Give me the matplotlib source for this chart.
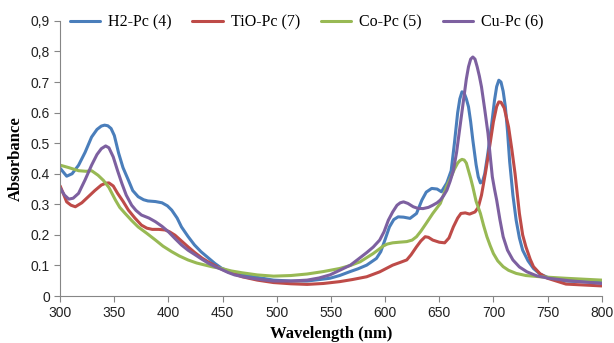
import matplotlib
matplotlib.use("Agg")
import matplotlib.pyplot as plt

# values
h2_wl = [300, 306, 311, 317, 323, 329, 334, 338, 341, 344, 347, 350, 354, 358, 363,
         367, 372, 377, 381, 388, 394, 399, 403, 408, 412, 418, 424, 430, 437, 443,
         449, 455, 461, 470, 480, 497, 513, 528, 549, 558, 567, 575, 583, 592, 596,
         600, 604, 608, 612, 617, 623, 629, 634, 638, 643, 648, 652, 657, 661, 664,
         667, 669, 671, 673, 675, 677, 679, 681, 684, 686, 688, 690, 692, 695, 698,
         701, 703, 705, 707, 709, 711, 713, 715, 718, 721, 724, 727, 732, 737, 743,
         750, 767, 800]
h2_abs = [0.418, 0.392, 0.400, 0.428, 0.47, 0.52, 0.545, 0.556, 0.559, 0.557, 0.548,
          0.525, 0.467, 0.42, 0.379, 0.345, 0.325, 0.315, 0.311, 0.309, 0.305, 0.295,
          0.281, 0.255, 0.226, 0.195, 0.167, 0.145, 0.124, 0.106, 0.091, 0.082, 0.075,
          0.068, 0.062, 0.052, 0.049, 0.049, 0.058, 0.067, 0.079, 0.089, 0.101, 0.123,
          0.145, 0.185, 0.226, 0.25, 0.259, 0.258, 0.254, 0.27, 0.314, 0.34, 0.352,
          0.35, 0.341, 0.37, 0.41, 0.5, 0.6, 0.645, 0.668, 0.664, 0.645, 0.619, 0.57,
          0.51, 0.43, 0.39, 0.37, 0.375, 0.40, 0.47, 0.55, 0.64, 0.685, 0.706, 0.70,
          0.67, 0.62, 0.54, 0.44, 0.33, 0.248, 0.19, 0.15, 0.115, 0.09, 0.072, 0.061,
          0.049, 0.044]

tio_wl = [300, 306, 310, 314, 320, 326, 332, 338, 342, 345, 349, 353, 358, 363, 369,
          375, 380, 385, 391, 397, 401, 406, 412, 418, 424, 431, 437, 443, 449, 455,
          468, 482, 497, 513, 528, 543, 558, 570, 583, 595, 601, 607, 614, 620, 624,
          629, 633, 637, 640, 644, 650, 655, 659, 663, 667, 670, 674, 678, 683, 686,
          689, 693, 697, 700, 703, 705, 707, 710, 714, 717, 720, 724, 727, 730, 734,
          737, 743, 750, 767, 800]
tio_abs = [0.36, 0.308, 0.297, 0.292, 0.305, 0.325, 0.345, 0.363, 0.369, 0.37, 0.36,
           0.336, 0.31, 0.281, 0.255, 0.232, 0.222, 0.218, 0.218, 0.216, 0.21, 0.199,
           0.18, 0.161, 0.143, 0.124, 0.111, 0.099, 0.088, 0.079, 0.063, 0.052, 0.044,
           0.04, 0.038, 0.041, 0.047, 0.054, 0.063, 0.079, 0.09, 0.101, 0.11, 0.118,
           0.135, 0.161, 0.18, 0.194, 0.192, 0.183, 0.176, 0.174, 0.19, 0.226, 0.255,
           0.27, 0.272, 0.268, 0.275, 0.29, 0.33, 0.41, 0.5, 0.57, 0.62, 0.635, 0.634,
           0.615, 0.553, 0.48, 0.40, 0.27, 0.2, 0.161, 0.12, 0.096, 0.073, 0.058, 0.039,
           0.033]

co_wl = [300, 308, 317, 324, 329, 335, 340, 345, 351, 355, 360, 366, 372, 380, 388,
         395, 403, 410, 418, 426, 434, 441, 449, 458, 468, 482, 497, 513, 528, 543,
         558, 568, 577, 589, 594, 598, 602, 607, 613, 620, 625, 629, 633, 638, 644,
         651, 657, 661, 664, 667, 669, 671, 673, 675, 677, 679, 681, 684, 688, 691,
         694, 697, 700, 704, 709, 714, 721, 730, 743, 767, 800]
co_abs = [0.428, 0.42, 0.41, 0.408, 0.41, 0.395, 0.378, 0.355, 0.314, 0.29, 0.27,
          0.247, 0.226, 0.205, 0.183, 0.163, 0.145, 0.131, 0.118, 0.108, 0.101, 0.095,
          0.09, 0.082, 0.076, 0.069, 0.065, 0.067, 0.072, 0.08, 0.09, 0.1, 0.112,
          0.139, 0.152, 0.163, 0.17, 0.174, 0.176, 0.178, 0.183, 0.194, 0.212, 0.238,
          0.27, 0.303, 0.36, 0.39, 0.415, 0.435, 0.443, 0.447, 0.445, 0.435, 0.41,
          0.385, 0.357, 0.31, 0.27, 0.23, 0.194, 0.165, 0.139, 0.115, 0.096, 0.084,
          0.074, 0.067, 0.063, 0.058, 0.052]

cu_wl = [300, 304, 308, 312, 317, 323, 329, 334, 338, 342, 345, 349, 353, 357, 361,
         366, 370, 375, 382, 388, 394, 400, 406, 412, 418, 425, 431, 437, 443, 449,
         455, 461, 469, 477, 487, 497, 513, 528, 539, 549, 558, 568, 575, 583, 589,
         595, 599, 603, 607, 611, 614, 617, 621, 626, 630, 635, 640, 644, 648, 651,
         654, 657, 660, 663, 666, 669, 672, 675, 677, 679, 681, 683, 685, 687, 689,
         692, 695, 697, 699, 701, 703, 706, 709, 713, 718, 724, 731, 740, 751, 770,
         800]
cu_abs = [0.353, 0.33, 0.317, 0.32, 0.336, 0.38, 0.428, 0.463, 0.482, 0.491, 0.485,
          0.455, 0.41, 0.368, 0.33, 0.297, 0.28, 0.265, 0.255, 0.243, 0.228, 0.21,
          0.188, 0.167, 0.15, 0.134, 0.12, 0.107, 0.096, 0.087, 0.077, 0.069, 0.063,
          0.058, 0.053, 0.049, 0.049, 0.052, 0.059, 0.069, 0.084, 0.101, 0.12, 0.142,
          0.16, 0.183, 0.21, 0.248, 0.275, 0.297, 0.305, 0.308, 0.303, 0.292, 0.287,
          0.286, 0.29, 0.297, 0.305, 0.314, 0.328, 0.346, 0.375, 0.41, 0.47, 0.55,
          0.63, 0.71, 0.75, 0.775, 0.782, 0.775, 0.75, 0.72, 0.684, 0.61, 0.532, 0.46,
          0.39, 0.35, 0.314, 0.25, 0.194, 0.15, 0.118, 0.095, 0.079, 0.066, 0.058,
          0.05, 0.041]

labels = ["H2-Pc (4)", "TiO-Pc (7)", "Co-Pc (5)", "Cu-Pc (6)"]
colors = ["#4A7EBB", "#BE4B48", "#98B954", "#7D60A0"]

y_ticks = [0, 0.1, 0.2, 0.3, 0.4, 0.5, 0.6, 0.7, 0.8, 0.9]
y_tick_labels = ["0", "0.1", "0.2", "0.3", "0.4", "0.5", "0.6", "0.7", "0,8", "0,9"]
x_ticks = [300, 350, 400, 450, 500, 550, 600, 650, 700, 750, 800]

fig = plt.figure(figsize=(6.14, 3.43), dpi=100)
ax = fig.add_axes([0.098, 0.137, 0.882, 0.802])

series = [(h2_wl, h2_abs), (tio_wl, tio_abs), (co_wl, co_abs), (cu_wl, cu_abs)]
for (wl, ab), lab, col in zip(series, labels, colors):
    ax.plot(wl, ab, color=col, lw=2.2, label=lab,
            solid_capstyle="round", solid_joinstyle="round")

ax.set_xlim(300, 800)
ax.set_ylim(0, 0.9)
ax.set_xticks(x_ticks)
ax.set_yticks(y_ticks)
ax.set_yticklabels(y_tick_labels)

for s in ["top", "right"]:
    ax.spines[s].set_visible(False)
for s in ["left", "bottom"]:
    ax.spines[s].set_color("#868686")
ax.tick_params(direction="out", length=4, color="#868686", labelsize=10,
               labelcolor="#222222")
for t in ax.get_xticklabels() + ax.get_yticklabels():
    t.set_family("Liberation Sans")

ax.set_xlabel("Wavelength (nm)", family="Liberation Serif", fontweight="bold",
              fontsize=12, labelpad=4)
ax.set_ylabel("Absorbance", family="Liberation Serif", fontweight="bold",
              fontsize=12, labelpad=5)

ax.legend(loc="center left", bbox_to_anchor=(0.0, 0.995), ncol=4, frameon=False,
          prop={"family": "Liberation Serif", "size": 11.5}, handlelength=1.9,
          columnspacing=1.3, handletextpad=0.5, borderaxespad=0.2)

fig.savefig("out.png", dpi=100)
